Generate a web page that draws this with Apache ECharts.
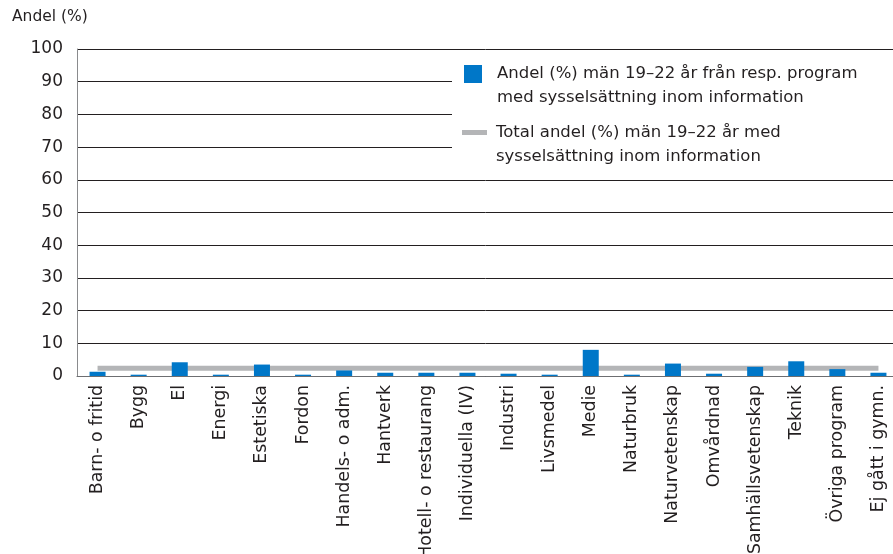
<!DOCTYPE html>
<html>
<head>
<meta charset="utf-8">
<script src="https://cdn.jsdelivr.net/npm/echarts@6/dist/echarts.min.js"></script>
<style>
html,body{margin:0;padding:0;background:#fff;}
#c{width:893px;height:554px;}
</style>
</head>
<body>
<div id="c"></div>
<script>
const categories = ["Barn- o fritid","Bygg","El","Energi","Estetiska","Fordon","Handels- o adm.","Hantverk","Hotell- o restaurang","Individuella (IV)","Industri","Livsmedel","Medie","Naturbruk","Naturvetenskap","Omvårdnad","Samhällsvetenskap","Teknik","Övriga program","Ej gått i gymn."];
const programShare = [1.3,0.4,4.2,0.4,3.5,0.4,1.7,1.0,1.0,1.0,0.7,0.4,8.0,0.4,3.8,0.7,2.8,4.5,2.1,1.0];
const totalShare = categories.map(() => 2.4);
const yTicks = {min:0, max:100, interval:10};
const seriesNames = ["Andel (%) män 19–22 år från resp. program med sysselsättning inom information","Total andel (%) män 19–22 år med sysselsättning inom information"];
const legendLines = {
  [seriesNames[0]]: " \nAndel (%) män 19–22 år från resp. program\nmed sysselsättning inom information",
  [seriesNames[1]]: " \nTotal andel (%) män 19–22 år med\nsysselsättning inom information"
};

const FONT = "DejaVu Sans";
const TXT = "#231f20";
const chart = echarts.init(document.getElementById('c'), null, {renderer:'canvas'});
chart.setOption({
  animation:false,
  backgroundColor:'#fff',
  title:{text:'Andel (%)', left:12, top:9, padding:0, textStyle:{fontFamily:FONT, fontSize:15.5, fontWeight:'normal', color:TXT}},
  grid:{left:77, top:49, width:822, height:327, containLabel:false, outerBoundsMode:'none'},
  legend:[
    {data:[seriesNames[0]], left:452, top:50, orient:'vertical', padding:[-12,120,0,12],
     backgroundColor:'#fff', z:5,
     icon:'rect', itemWidth:18, itemHeight:18,
     formatter: n => legendLines[n],
     textStyle:{fontFamily:FONT, fontSize:16.5, color:TXT, lineHeight:24, padding:[0,0,0,10]}},
    {data:[seriesNames[1]], left:452, top:110.5, orient:'vertical', padding:[-14,120,10,10],
     backgroundColor:'#fff', z:5,
     icon:'rect', itemWidth:25, itemHeight:5,
     formatter: n => legendLines[n],
     textStyle:{fontFamily:FONT, fontSize:16.5, color:TXT, lineHeight:24, padding:[0,0,0,4]}}
  ],
  xAxis:{type:'category', data:categories, boundaryGap:true,
    axisLine:{lineStyle:{color:'#6d6e71', width:1}},
    axisTick:{show:false},
    axisLabel:{rotate:90, interval:0, margin:9, fontFamily:FONT, fontSize:17.4, color:TXT}},
  yAxis:{type:'value', min:yTicks.min, max:yTicks.max, interval:yTicks.interval,
    axisLine:{show:true, lineStyle:{color:'#8a8b8d', width:1}},
    axisTick:{show:false},
    splitLine:{lineStyle:{color:'#231f20', width:1}},
    axisLabel:{margin:14, fontFamily:FONT, fontSize:17, color:TXT}},
  series:[
    {name:seriesNames[0], type:'bar', data:programShare, barWidth:16, itemStyle:{color:'#0077c8'}, z:3},
    {name:seriesNames[1], type:'line', data:totalShare, symbol:'none', lineStyle:{color:'#b4b5b7', width:5}, itemStyle:{color:'#b4b5b7'}, z:2}
  ]
});
</script>
</body>
</html>
